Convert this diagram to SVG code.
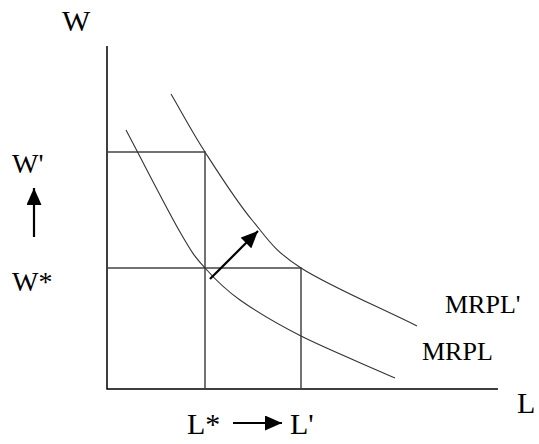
<svg xmlns="http://www.w3.org/2000/svg" width="539" height="444" viewBox="0 0 539 444">
<style>
text{font-family:"Liberation Serif","Times New Roman",serif;fill:#000}
.lbl{font-size:28px}
.big{font-size:30px}
.crv{font-size:26px}
.axis{stroke:#000;stroke-width:1.5;fill:none}
.box{stroke:#444;stroke-width:1.5;fill:none}
.curve{stroke:#333;stroke-width:1.1;fill:none}
.arr{stroke:#000;stroke-width:2.2;fill:none}
</style>
<defs>
<marker id="ah" markerUnits="userSpaceOnUse" markerWidth="17" markerHeight="15" refX="17" refY="7.5" orient="auto">
<path d="M0,0 L17,7.5 L0,15 z" fill="#000"/>
</marker>
</defs>
<rect width="539" height="444" fill="#fff"/>
<g id="axes">
<path class="axis" d="M107,46 V389 H498"/>
</g>
<g id="guides">
<path class="box" d="M107,152 H205 V389"/>
<path class="box" d="M107,268 H301 V389"/>
</g>
<g id="mrpl-prime">
<path class="curve" d="M171,94 C182.3,113.3 191.5,131 205,152 C218.5,173 236,200.7 252,220 C268,239.3 273.5,250.3 301,268 C328.5,285.7 378.3,306.7 417,326"/>
<text class="crv" x="445" y="313">MRPL'</text>
</g>
<g id="mrpl">
<path class="curve" d="M126,130 C144,164 166.8,209 180,232 C193.2,255 195,256.7 205,268 C215,279.3 224,288.7 240,300 C256,311.3 275.2,323 301,336 C326.8,349 363.7,364 395,378"/>
<text class="crv" x="422" y="360">MRPL</text>
</g>
<g id="labels">
<text class="big" x="62" y="31">W</text>
<text class="lbl" x="12" y="173">W'</text>
<text class="lbl" x="12" y="291">W*</text>
<text class="big" x="517" y="413">L</text>
<text class="big" x="187" y="434">L*</text>
<text class="big" x="290" y="434">L'</text>
</g>
<g id="connectors">
<line class="arr" x1="210" y1="279" x2="258" y2="231" marker-end="url(#ah)"/>
<line class="arr" x1="34" y1="237" x2="34" y2="188" marker-end="url(#ah)"/>
<line class="arr" x1="233" y1="423" x2="282" y2="423" marker-end="url(#ah)"/>
</g>
</svg>
